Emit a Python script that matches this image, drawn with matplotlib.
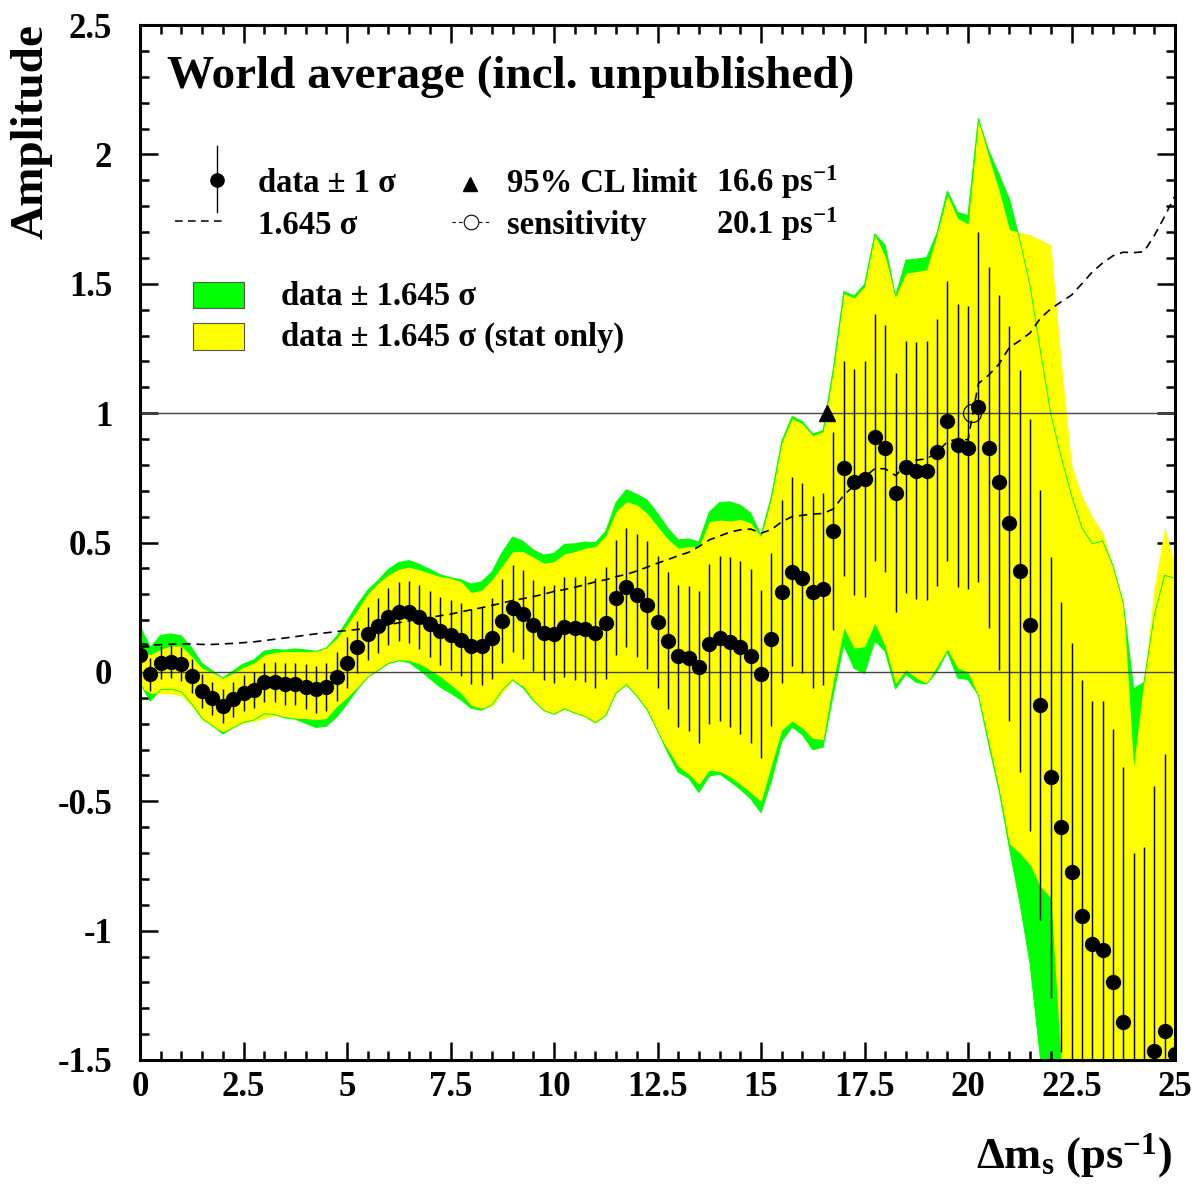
import numpy as np
import matplotlib
matplotlib.use('Agg')
import matplotlib.pyplot as plt
from matplotlib.patches import Rectangle
from matplotlib.lines import Line2D

plt.rcParams['font.family'] = ['Liberation Serif', 'DejaVu Serif']
plt.rcParams['font.weight'] = 'bold'
plt.rcParams['mathtext.fontset'] = 'custom'
plt.rcParams['mathtext.rm'] = 'Liberation Serif:bold'
plt.rcParams['mathtext.bf'] = 'Liberation Serif:bold'
plt.rcParams['mathtext.it'] = 'Liberation Serif:bold:italic'
plt.rcParams['mathtext.default'] = 'rm'

# ---------------- data (scan points every 0.25 ps^-1 from 0 to 25) ----------------
amp = [0.066, -0.009, 0.036, 0.040, 0.031, -0.016, -0.074, -0.102, -0.132, -0.106,
       -0.082, -0.070, -0.041, -0.039, -0.047, -0.047, -0.057, -0.068, -0.059, -0.019,
       0.036, 0.096, 0.147, 0.179, 0.214, 0.233, 0.233, 0.211, 0.185, 0.158,
       0.141, 0.124, 0.099, 0.100, 0.129, 0.196, 0.245, 0.222, 0.180, 0.151,
       0.147, 0.175, 0.168, 0.165, 0.151, 0.187, 0.287, 0.327, 0.296, 0.259,
       0.193, 0.121, 0.061, 0.052, 0.018, 0.107, 0.130, 0.117, 0.095, 0.062,
       -0.008, 0.127, 0.310, 0.387, 0.362, 0.309, 0.321, 0.546, 0.787, 0.733,
       0.745, 0.906, 0.864, 0.693, 0.791, 0.777, 0.777, 0.848, 0.968, 0.876,
       0.867, 1.024, 0.867, 0.732, 0.574, 0.390, 0.181, -0.128, -0.407, -0.600,
       -0.775, -0.943, -1.050, -1.074, -1.197, -1.355, -1.685, -1.665, -1.467, -1.387,
       -1.478]

# 1.645 sigma (total)
sig1645 = [0.110, 0.104, 0.105, 0.107, 0.108, 0.108, 0.106, 0.106, 0.108, 0.110,
           0.113, 0.116, 0.121, 0.126, 0.131, 0.136, 0.142, 0.147, 0.151, 0.156,
           0.160, 0.164, 0.168, 0.174, 0.182, 0.190, 0.197, 0.204, 0.211, 0.217,
           0.223, 0.232, 0.240, 0.248, 0.257, 0.266, 0.276, 0.283, 0.291, 0.300,
           0.311, 0.318, 0.327, 0.337, 0.348, 0.356, 0.368, 0.377, 0.390, 0.405,
           0.420, 0.434, 0.449, 0.462, 0.484, 0.510, 0.525, 0.540, 0.549, 0.552,
           0.536, 0.550, 0.580, 0.600, 0.605, 0.610, 0.612, 0.630, 0.683, 0.720,
           0.752, 0.786, 0.785, 0.759, 0.800, 0.818, 0.824, 0.847, 0.890, 0.900,
           0.897, 1.114, 1.147, 1.190, 1.254, 1.280, 1.310, 1.367, 1.403, 1.430,
           1.456, 1.500, 1.545, 1.580, 1.608, 1.622, 1.620, 1.624, 1.686, 1.760,
           1.840]

# stat-only band edges
stat_hi = [0.079, 0.066, 0.088, 0.100, 0.100, 0.059, 0.014, -0.003, -0.024, -0.005,
           0.018, 0.034, 0.066, 0.075, 0.079, 0.079, 0.078, 0.079, 0.094, 0.130,
           0.182, 0.240, 0.301, 0.343, 0.375, 0.397, 0.405, 0.394, 0.381, 0.368,
           0.362, 0.349, 0.307, 0.315, 0.356, 0.410, 0.465, 0.465, 0.443, 0.420,
           0.426, 0.456, 0.465, 0.478, 0.484, 0.526, 0.620, 0.658, 0.645, 0.613,
           0.562, 0.513, 0.478, 0.484, 0.484, 0.581, 0.587, 0.583, 0.590, 0.575,
           0.523, 0.672, 0.885, 0.980, 0.958, 0.913, 0.928, 1.170, 1.462, 1.445,
           1.490, 1.689, 1.605, 1.450, 1.541, 1.547, 1.554, 1.690, 1.843, 1.753,
           1.731, 2.133, 1.990, 1.860, 1.710, 1.698, 1.689, 1.670, 1.650, 1.200,
           0.800, 0.680, 0.600, 0.538, 0.410, 0.270, -0.365, -0.030, 0.326, 0.559,
           0.410]
stat_lo = [-0.060, -0.082, -0.085, -0.085, -0.093, -0.134, -0.186, -0.211, -0.231, -0.214,
           -0.198, -0.192, -0.179, -0.170, -0.173, -0.180, -0.180, -0.185, -0.180, -0.134,
           -0.099, -0.059, -0.021, 0.010, 0.037, 0.046, 0.044, 0.031, 0.008, -0.018,
           -0.050, -0.082, -0.130, -0.140, -0.134, -0.082, -0.034, -0.054, -0.108, -0.151,
           -0.164, -0.144, -0.160, -0.175, -0.198, -0.166, -0.082, -0.050, -0.095, -0.147,
           -0.237, -0.300, -0.365, -0.395, -0.435, -0.379, -0.385, -0.405, -0.435, -0.466,
           -0.501, -0.360, -0.225, -0.190, -0.218, -0.257, -0.262, -0.031, 0.169, 0.092,
           0.098, 0.188, 0.098, -0.044, 0.008, -0.024, -0.044, 0.021, 0.088, 0.014,
           0.000, -0.095, -0.270, -0.455, -0.665, -0.700, -0.746, -0.830, -0.873, -1.520,
           -1.900, -1.900, -1.900, -1.900, -1.900, -1.900, -1.900, -1.900, -1.900, -1.900,
           -1.900]

limit_dms = 16.6
sens_dms = 20.1

x_ticks = [0, 2.5, 5, 7.5, 10, 12.5, 15, 17.5, 20, 22.5, 25]
x_tick_labels = ['0', '2.5', '5', '7.5', '10', '12.5', '15', '17.5', '20', '22.5', '25']
y_ticks = [-1.5, -1.0, -0.5, 0.0, 0.5, 1.0, 1.5, 2.0, 2.5]
y_tick_labels = ['-1.5', '-1', '-0.5', '0', '0.5', '1', '1.5', '2', '2.5']

# ---------------- derived ----------------
dms = np.linspace(0.0, 25.0, len(amp))
amp = np.array(amp)
tot = np.array(sig1645)
sig = tot / 1.645
green_hi = amp + tot
green_lo = amp - tot

GREEN = '#00ff00'
YELLOW = '#ffff00'

W, H = 1196, 1186
fig = plt.figure(figsize=(W / 100, H / 100), dpi=100)
L, R, T, B = 140, 1175, 25, 1060
ax = fig.add_axes([L / W, 1 - B / H, (R - L) / W, (B - T) / H])

ax.fill_between(dms, green_lo, green_hi, color=GREEN, lw=0, zorder=1)
ax.fill_between(dms, stat_lo, stat_hi, color=YELLOW, lw=0, zorder=2)
ax.plot(dms, green_hi, color=GREEN, lw=0.7, zorder=2.5)
ax.plot(dms, green_lo, color=GREEN, lw=0.7, zorder=2.5)
ax.axhline(0, color='#444444', lw=1.0, zorder=3)
ax.axhline(1, color='#444444', lw=1.0, zorder=3)
ax.plot(dms, tot, color='black', lw=1.2, ls=(0, (5, 3.5)), zorder=4)
ax.vlines(dms, amp - sig, amp + sig, color='black', lw=1.05, zorder=4)
ax.plot(dms, amp, 'o', color='black', ms=10, zorder=5)
ax.plot([limit_dms], [1.0], '^', color='black', ms=12, zorder=6)
ax.plot([sens_dms], [1.0], 'o', mfc='none', mec='black', mew=0.9, ms=13, zorder=6)

ax.set_xlim(0, 25)
ax.set_ylim(-1.5, 2.5)
ax.set_xticks(x_ticks)
ax.set_xticklabels(x_tick_labels)
ax.set_xticks(np.arange(0, 25.01, 0.5), minor=True)
ax.set_yticks(y_ticks)
ax.set_yticklabels(y_tick_labels)
ax.set_yticks(np.arange(-1.5, 2.501, 0.1), minor=True)
ax.tick_params(which='both', direction='in', top=True, right=True, width=1.8)
ax.tick_params(which='major', length=13)
ax.tick_params(which='minor', length=6.5)
ax.tick_params(axis='x', labelsize=25, pad=8)
ax.tick_params(axis='y', labelsize=25, pad=20)
for s in ax.spines.values():
    s.set_linewidth(2.2)
    s.set_zorder(10)


def fx(px):
    return px / W


def fy(py):
    return 1 - py / H


tf = fig.transFigure
LEG = 23.5
# data +- 1 sigma
fig.add_artist(Line2D([fx(217), fx(217)], [fy(146), fy(212)], color='black', lw=1.0, transform=tf))
fig.add_artist(Line2D([fx(217)], [fy(180)], marker='o', ms=9.5, color='black', ls='none', transform=tf))
fig.text(fx(258), fy(192), 'data ± 1 σ', fontsize=LEG, va='baseline')
# 1.645 sigma
fig.add_artist(Line2D([fx(175), fx(223)], [fy(221), fy(221)], color='black', lw=1.1,
                      ls=(0, (5, 3.5)), transform=tf))
fig.text(fx(258), fy(234), '1.645 σ', fontsize=LEG, va='baseline')
# 95% CL limit
fig.add_artist(Line2D([fx(470)], [fy(184)], marker='^', ms=10.5, color='black', ls='none', transform=tf))
fig.text(fx(507), fy(192), '95% CL limit', fontsize=LEG, va='baseline')
fig.text(fx(716), fy(192), '%.1f ps$^{-1}$' % limit_dms, fontsize=LEG, va='baseline')
# sensitivity
fig.add_artist(Line2D([fx(452), fx(490)], [fy(222), fy(222)], color='black', lw=0.8,
                      ls=(0, (3, 3)), transform=tf))
fig.add_artist(Line2D([fx(471)], [fy(222)], marker='o', ms=10.5, mfc='white', mec='black',
                      mew=0.8, ls='none', transform=tf))
fig.text(fx(507), fy(234), 'sensitivity', fontsize=LEG, va='baseline')
fig.text(fx(716), fy(234), '%.1f ps$^{-1}$' % sens_dms, fontsize=LEG, va='baseline')
# band boxes
fig.add_artist(Rectangle((fx(193), fy(308)), 51 / W, 26 / H, facecolor=GREEN, edgecolor='#555555',
                         lw=0.8, transform=tf))
fig.text(fx(281), fy(305), 'data ± 1.645 σ', fontsize=LEG, va='baseline')
fig.add_artist(Rectangle((fx(193), fy(350)), 51 / W, 27 / H, facecolor=YELLOW, edgecolor='#555555',
                         lw=0.8, transform=tf))
fig.text(fx(281), fy(346), 'data ± 1.645 σ (stat only)', fontsize=LEG, va='baseline')

# title and axis labels
fig.text(fx(167), fy(88), 'World average (incl. unpublished)', fontsize=34, va='baseline')
fig.text(fx(32), fy(24), 'Amplitude', rotation=90, ha='center', va='top', fontsize=34)
fig.text(fx(1172), fy(1168), 'Δm$_{\\mathrm{s}}$ (ps$^{-1}$)', ha='right', va='baseline', fontsize=32)

fig.savefig('out.png', dpi=100)
